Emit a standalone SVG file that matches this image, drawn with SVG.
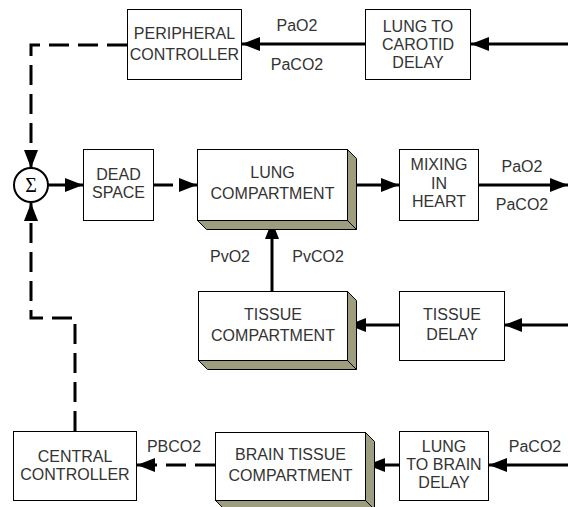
<svg xmlns="http://www.w3.org/2000/svg" width="568" height="507" viewBox="0 0 568 507">
<style>
.box{fill:#fff;stroke:#000;stroke-width:1}
.side{fill:#9f9d80;stroke:#000;stroke-width:1}
text{font-family:"Liberation Sans",Arial,sans-serif;font-size:16px;fill:#333;text-anchor:middle}
.ln{fill:none;stroke:#000;stroke-width:3}
.dash{stroke-dasharray:20 9}
</style>
<defs>
<marker id="ah" markerUnits="userSpaceOnUse" markerWidth="18" markerHeight="14" viewBox="0 0 18 14" refX="18" refY="7" orient="auto">
<path d="M0,0 L18,7 L0,14 Z" fill="#000"/>
</marker>
</defs>
<rect width="568" height="507" fill="#fff"/>
<g id="connectors">
<path class="ln" d="M568,44 L471,44" marker-end="url(#ah)"/>
<path class="ln" d="M365,44 L242,44" marker-end="url(#ah)"/>
<path class="ln dash" d="M127,45 L31,45 L31,168" marker-end="url(#ah)"/>
<path class="ln" d="M48,185 L83,185" marker-end="url(#ah)"/>
<path class="ln dash" d="M153,185 L197,185" marker-end="url(#ah)"/>
<path class="ln" d="M347,185 L399,185" marker-end="url(#ah)"/>
<path class="ln" d="M478,185 L568,185" marker-end="url(#ah)"/>
<path class="ln" d="M272,291 L272,221" marker-end="url(#ah)"/>
<path class="ln" d="M568,325 L504,325" marker-end="url(#ah)"/>
<path class="ln" d="M399,325 L348,325" marker-end="url(#ah)"/>
<path class="ln dash" d="M75,431 L75,318 L31,318 L31,203" marker-end="url(#ah)"/>
<path class="ln" d="M568,465 L489,465" marker-end="url(#ah)"/>
<path class="ln" d="M399,465 L367,465" marker-end="url(#ah)"/>
<path class="ln dash" d="M215,465 L137,465" marker-end="url(#ah)"/>
</g>
<g id="labels">
<text x="297" y="31">PaO2</text>
<text x="297" y="70">PaCO2</text>
<text x="522" y="172">PaO2</text>
<text x="522" y="210">PaCO2</text>
<text x="230" y="262">PvO2</text>
<text x="318" y="262">PvCO2</text>
<text x="174" y="452">PBCO2</text>
<text x="535" y="452">PaCO2</text>
</g>
<g id="peripheral">
<rect class="box" x="127.5" y="9.5" width="114" height="70"/>
<text x="184.5" y="39">PERIPHERAL</text>
<text x="184.5" y="60">CONTROLLER</text>
</g>
<g id="carotid-delay">
<rect class="box" x="365.5" y="9.5" width="105" height="70"/>
<text x="418" y="32">LUNG TO</text>
<text x="418" y="50">CAROTID</text>
<text x="418" y="68">DELAY</text>
</g>
<g id="sum">
<circle cx="31" cy="185" r="17" fill="#fff" stroke="#000" stroke-width="2"/>
<text x="31" y="192" style="font-family:'Liberation Serif','Times New Roman',serif;font-size:20px;fill:#000">Σ</text>
</g>
<g id="dead-space">
<rect class="box" x="83.5" y="149.5" width="70" height="71"/>
<text x="118.5" y="180">DEAD</text>
<text x="118.5" y="198">SPACE</text>
</g>
<g id="lung">
<polygon class="side" points="347.5,149.5 356.5,158.5 356.5,229.5 347.5,220.5"/>
<polygon class="side" points="197.5,220.5 347.5,220.5 356.5,229.5 206.5,229.5"/>
<rect class="box" x="197.5" y="149.5" width="150" height="71"/>
<text x="272.5" y="178">LUNG</text>
<text x="272.5" y="199">COMPARTMENT</text>
</g>
<g id="mixing">
<rect class="box" x="399.5" y="149.5" width="79" height="71"/>
<text x="439" y="170">MIXING</text>
<text x="439" y="189">IN</text>
<text x="439" y="207">HEART</text>
</g>
<g id="tissue">
<polygon class="side" points="347.5,291.5 356.5,300.5 356.5,369.5 347.5,360.5"/>
<polygon class="side" points="198.5,360.5 347.5,360.5 356.5,369.5 207.5,369.5"/>
<rect class="box" x="198.5" y="291.5" width="149" height="69"/>
<text x="273" y="320">TISSUE</text>
<text x="273" y="341">COMPARTMENT</text>
</g>
<g id="tissue-delay">
<rect class="box" x="399.5" y="291.5" width="105" height="69"/>
<text x="452" y="320">TISSUE</text>
<text x="452" y="340">DELAY</text>
</g>
<g id="central">
<rect class="box" x="13.5" y="431.5" width="123" height="69"/>
<text x="75" y="462">CENTRAL</text>
<text x="75" y="480">CONTROLLER</text>
</g>
<g id="brain-tissue">
<polygon class="side" points="365.5,432.5 374.5,441.5 374.5,509.5 365.5,500.5"/>
<polygon class="side" points="215.5,500.5 365.5,500.5 374.5,509.5 224.5,509.5"/>
<rect class="box" x="215.5" y="432.5" width="150" height="68"/>
<text x="290.5" y="460">BRAIN TISSUE</text>
<text x="290.5" y="481">COMPARTMENT</text>
</g>
<g id="brain-delay">
<rect class="box" x="399.5" y="431.5" width="89" height="69"/>
<text x="444" y="452">LUNG</text>
<text x="444" y="470">TO BRAIN</text>
<text x="444" y="488">DELAY</text>
</g>
</svg>
